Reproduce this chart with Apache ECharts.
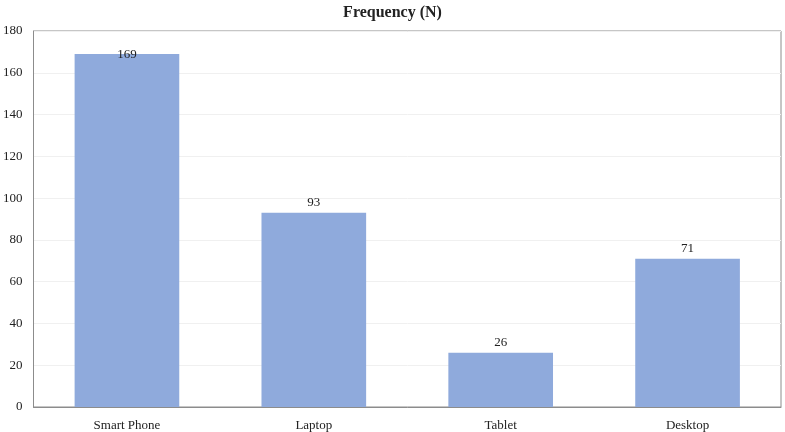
<!DOCTYPE html>
<html>
<head>
<meta charset="utf-8">
<script src="https://cdn.jsdelivr.net/npm/echarts@6/dist/echarts.min.js"></script>
<style>
  html, body { margin: 0; padding: 0; background: #fff; }
  #chart { width: 785px; height: 432px; }
</style>
</head>
<body>
<div id="chart"></div>
<script>
const devices = ["Smart Phone", "Laptop", "Tablet", "Desktop"];
const frequency = [169, 93, 26, 71];

let myChart = echarts.init(document.getElementById("chart"));

const font = "'Liberation Serif', 'Times New Roman', serif";

let option = {
  animation: false,
  title: {
    text: "Frequency (N)",
    left: "center",
    top: 0,
    textStyle: {
      fontFamily: font,
      fontSize: 16,
      fontWeight: "bold",
      color: "#222",
    },
  },
  grid: {
    left: 31,
    right: 4,
    top: 31,
    bottom: 24,
    show: true,
    borderColor: "#8c8c8c",
    borderWidth: 1,
  },
  xAxis: {
    type: "category",
    data: devices,
    axisLine: { show: true, lineStyle: { color: "#8c8c8c" } },
    axisTick: { show: false },
    axisLabel: {
      fontFamily: font,
      fontSize: 13,
      color: "#222",
      margin: 12,
    },
  },
  yAxis: {
    type: "value",
    min: 0,
    max: 180,
    interval: 20,
    axisLine: { show: true, lineStyle: { color: "#8c8c8c" } },
    axisTick: { show: false },
    axisLabel: {
      fontFamily: font,
      fontSize: 13,
      color: "#222",
      margin: 11,
    },
    splitLine: { lineStyle: { color: "#f0f0f0" } },
  },
  series: [
    {
      type: "bar",
      data: frequency.map(function (v, i) {
        // the tallest bar's label sits across its top edge
        if (i === 0) return { value: v, label: { distance: -7 } };
        return v;
      }),
      barCategoryGap: "44%",
      itemStyle: { color: "#8faadc" },
      label: {
        show: true,
        position: "top",
        distance: 4,
        fontFamily: font,
        fontSize: 13,
        color: "#222",
      },
    },
  ],
};

myChart.setOption(option);
window.addEventListener("resize", myChart.resize);
</script>
</body>
</html>
